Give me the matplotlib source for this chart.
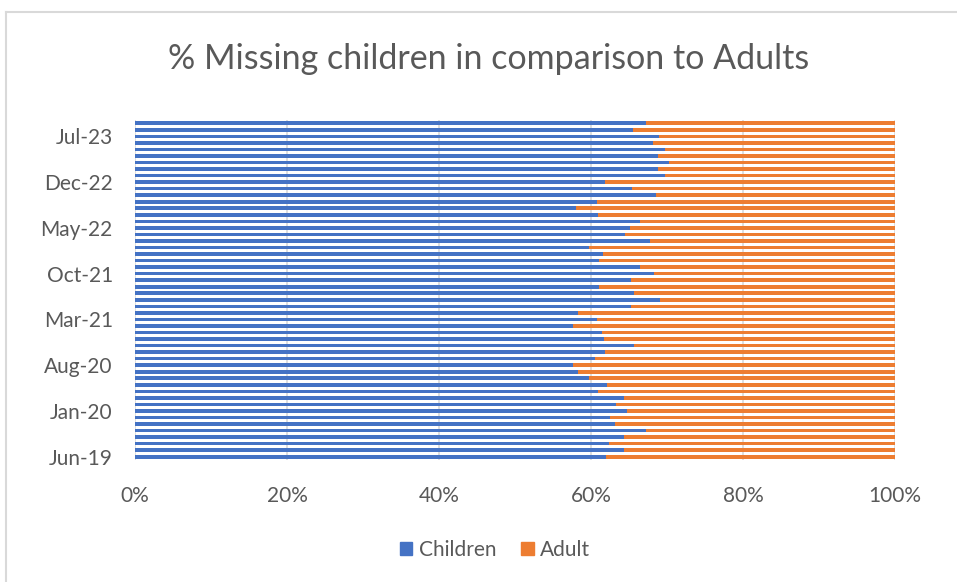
import matplotlib
matplotlib.use("Agg")
import matplotlib.pyplot as plt
from matplotlib.patches import Patch
from matplotlib.lines import Line2D

plt.rcParams['font.family'] = ['Lato', 'DejaVu Sans']

months = ['Jun-19', 'Jul-19', 'Aug-19', 'Sep-19', 'Oct-19', 'Nov-19', 'Dec-19',
          'Jan-20', 'Feb-20', 'Mar-20', 'Apr-20', 'May-20', 'Jun-20', 'Jul-20',
          'Aug-20', 'Sep-20', 'Oct-20', 'Nov-20', 'Dec-20', 'Jan-21', 'Feb-21',
          'Mar-21', 'Apr-21', 'May-21', 'Jun-21', 'Jul-21', 'Aug-21', 'Sep-21',
          'Oct-21', 'Nov-21', 'Dec-21', 'Jan-22', 'Feb-22', 'Mar-22', 'Apr-22',
          'May-22', 'Jun-22', 'Jul-22', 'Aug-22', 'Sep-22', 'Oct-22', 'Nov-22',
          'Dec-22', 'Jan-23', 'Feb-23', 'Mar-23', 'Apr-23', 'May-23', 'Jun-23',
          'Jul-23', 'Aug-23', 'Sep-23']

# % of missing reports, children vs adults
children = [62.0, 64.3, 62.4, 64.3, 67.2, 63.2, 62.5, 64.7, 63.3, 64.3,
            60.9, 62.1, 59.7, 58.3, 57.6, 60.5, 61.9, 65.7, 61.7, 61.5,
            57.6, 60.8, 58.3, 65.3, 69.1, 65.7, 61.0, 65.2, 68.3, 66.5,
            61.0, 61.6, 59.7, 67.8, 64.5, 65.1, 66.5, 60.9, 58.0, 60.8,
            68.6, 65.4, 61.9, 69.7, 68.8, 70.2, 68.8, 69.7, 68.1, 69.0,
            65.5, 67.3]
adult = [38.0, 35.7, 37.6, 35.7, 32.8, 36.8, 37.5, 35.3, 36.7, 35.7,
         39.1, 37.9, 40.3, 41.7, 42.4, 39.5, 38.1, 34.3, 38.3, 38.5,
         42.4, 39.2, 41.7, 34.7, 30.9, 34.3, 39.0, 34.8, 31.7, 33.5,
         39.0, 38.4, 40.3, 32.2, 35.5, 34.9, 33.5, 39.1, 42.0, 39.2,
         31.4, 34.6, 38.1, 30.3, 31.2, 29.8, 31.2, 30.3, 31.9, 31.0,
         34.5, 32.7]

blue = '#4472C4'
orange = '#ED7D31'
txt = '#595959'

fig = plt.figure(figsize=(9.57, 5.82), dpi=100)
ax = fig.add_axes([135/957, 1 - 460/582, 760/957, 340/582])

y = range(len(months))
ax.barh(y, children, height=0.55, color=blue, zorder=3)
ax.barh(y, adult, left=children, height=0.55, color=orange, zorder=3)

ax.set_xlim(0, 100)
ax.set_ylim(-0.5, len(months) - 0.5)
ax.set_xticks([0, 20, 40, 60, 80, 100])
ax.set_xticklabels([f'{v}%' for v in [0, 20, 40, 60, 80, 100]])
ax.set_yticks(list(range(0, len(months), 7)))
ax.set_yticklabels(months[::7])
ax.tick_params(length=0, labelsize=15, labelcolor=txt)
ax.tick_params(axis='y', pad=16)
ax.tick_params(axis='x', pad=19)
ax.xaxis.grid(True, color='#d9d9d9', linewidth=1.2, zorder=0)
for s in ax.spines.values():
    s.set_visible(False)

fig.text(489/957, 1 - 59/582, '% Missing children in comparison to Adults',
         ha='center', va='center', fontsize=24.5, color=txt)

handles = [Patch(color=blue, label='Children'), Patch(color=orange, label='Adult')]
fig.legend(handles=handles, loc='center', bbox_to_anchor=(495/957, 1 - 550/582),
           ncol=2, frameon=False, fontsize=15, labelcolor=txt,
           handlelength=0.6, handleheight=0.6, handletextpad=0.3, columnspacing=1.2)

# chart area border (only top/left visible in the screenshot)
fig.add_artist(Line2D([6/957, 6/957], [0, 1 - 12/582], transform=fig.transFigure,
                      color='#d9d9d9', linewidth=1.5))
fig.add_artist(Line2D([6/957, 1], [1 - 12/582, 1 - 12/582], transform=fig.transFigure,
                      color='#d9d9d9', linewidth=1.5))

fig.savefig('out.png', dpi=100)
